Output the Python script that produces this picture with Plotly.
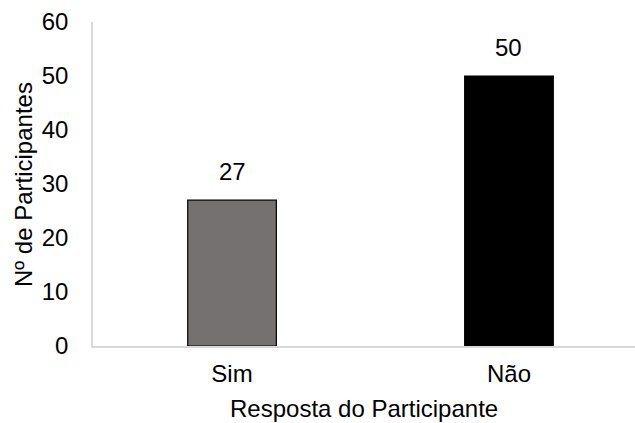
import plotly.graph_objects as go

categories = ["Sim", "Não"]
values = [27, 50]
bar_colors = ["#767171", "#000000"]
y_ticks = [0, 10, 20, 30, 40, 50, 60]

FONT = "Liberation Sans, Arial, sans-serif"
TXT = 24

fig = go.Figure(
    go.Bar(
        x=categories,
        y=values,
        width=0.32,
        marker=dict(color=bar_colors, line=dict(color="#000000", width=1.2)),
    )
)

# value labels sitting above each bar
for cat, val in zip(categories, values):
    fig.add_annotation(
        x=cat, y=val, text=str(val),
        xref="x", yref="y",
        yanchor="bottom", yshift=13,
        showarrow=False,
        font=dict(family=FONT, size=TXT, color="#000000"),
    )

fig.update_layout(
    width=635,
    height=423,
    margin=dict(l=93, r=0, t=22, b=77),
    paper_bgcolor="white",
    plot_bgcolor="white",
    showlegend=False,
    font=dict(family=FONT, size=TXT, color="#000000"),
)

fig.update_xaxes(
    type="category",
    range=[-0.502, 1.455],
    showline=True,
    linecolor="#d9d9d9",
    linewidth=1.5,
    showgrid=False,
    ticks="",
    ticklabelstandoff=5,
    tickfont=dict(family=FONT, size=TXT, color="#000000"),
)

fig.update_yaxes(
    range=[0, 60],
    tickvals=y_ticks,
    showline=True,
    linecolor="#d9d9d9",
    linewidth=1.5,
    showgrid=False,
    zeroline=False,
    ticks="",
    ticklabelstandoff=18,
    tickfont=dict(family=FONT, size=TXT, color="#000000"),
)

fig.add_annotation(
    text="Nº de Participantes",
    xref="paper", yref="paper",
    x=-0.1273, y=0.497,
    xanchor="center", yanchor="middle",
    textangle=-90,
    showarrow=False,
    font=dict(family=FONT, size=TXT, color="#000000"),
)
fig.add_annotation(
    text="Resposta do Participante",
    xref="paper", yref="paper",
    x=0.5, y=-0.193,
    xanchor="center", yanchor="middle",
    showarrow=False,
    font=dict(family=FONT, size=TXT, color="#000000"),
)

fig.write_html("out.html")
